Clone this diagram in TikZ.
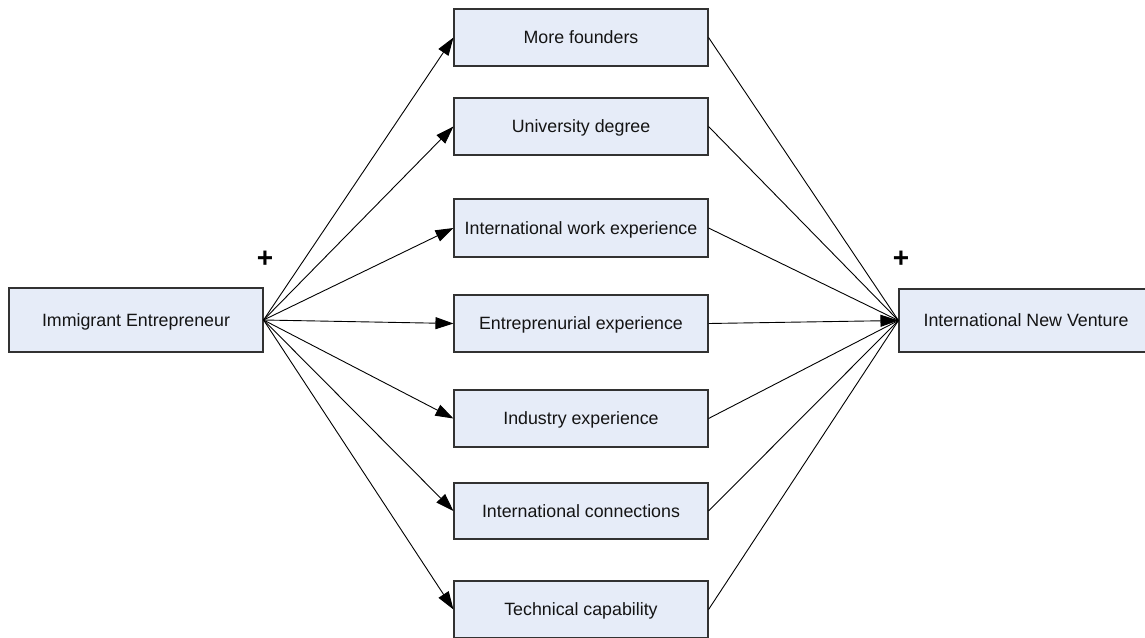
\documentclass[tikz,border=0pt]{standalone}
\usepackage{fontspec}
\setmainfont{Liberation Sans}
\usetikzlibrary{arrows.meta}
\definecolor{boxfill}{RGB}{230,236,248}
\definecolor{boxline}{RGB}{50,50,50}
\definecolor{txt}{RGB}{20,20,20}
\begin{document}
\begin{tikzpicture}[x=1pt,y=-1pt,
  box/.style={rectangle,draw=boxline,fill=boxfill,line width=1.1pt,inner sep=0pt,
    minimum width=254pt,minimum height=57pt,text=txt,text height=14pt,text depth=2pt,
    font=\fontsize{17.8}{21}\selectfont},
  conn/.style={line width=0.9pt,draw=black},
  arr/.style={conn,-{Triangle[length=18pt,width=12pt]}},
  plus/.style={font=\fontsize{28}{30}\selectfont\bfseries,inner sep=0pt}]
\useasboundingbox (0,0) rectangle (1145,637);
\node[box,minimum height=64pt] (ie) at (136,320) {Immigrant Entrepreneur};
\node[box,minimum height=63pt] (inv) at (1026,320.5) {International New Venture};
\node[box] (m1) at (581,37.5) {More founders};
\node[box] (m2) at (581,126.5) {University degree};
\node[box,minimum height=58pt] (m3) at (581,228) {International work experience};
\node[box] (m4) at (581,323.5) {Entreprenurial experience};
\node[box] (m5) at (581,418.5) {Industry experience};
\node[box,minimum height=56pt] (m6) at (581,511) {International connections};
\node[box] (m7) at (581,609.5) {Technical capability};
\node[plus] (p1) at (265,259) {+};
\node[plus] (p2) at (901,259) {+};
\foreach \m in {m1,m2,m3,m4,m5,m6,m7}{
  \draw[arr] (ie.east) -- (\m.west);
}
\foreach \m in {m1,m2,m3,m5,m6,m7}{
  \draw[conn] (\m.east) -- (inv.west);
}
\draw[arr] (m4.east) -- (inv.west);
\end{tikzpicture}
\end{document}
